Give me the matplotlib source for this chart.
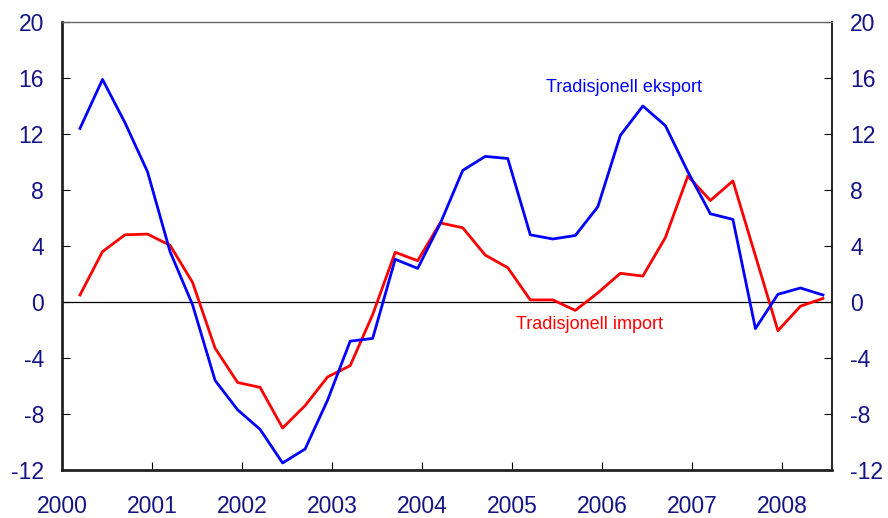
import matplotlib.pyplot as plt
import numpy as np

plt.rcParams['font.family'] = ['Liberation Sans', 'DejaVu Sans']

# kvartalsdata 2000K1 - 2008K2
eksport = [12.4, 15.9, 12.8, 9.3, 3.6, -0.2, -5.6, -7.7, -9.1, -11.5, -10.5, -7.0,
           -2.8, -2.6, 3.05, 2.4, 5.6, 9.4, 10.4, 10.25, 4.8, 4.5, 4.75, 6.8,
           11.9, 14.0, 12.6, 9.3, 6.3, 5.9, -1.9, 0.55, 1.0, 0.5]
importen = [0.5, 3.6, 4.8, 4.85, 4.05, 1.4, -3.3, -5.75, -6.1, -9.0, -7.4, -5.35,
            -4.55, -0.9, 3.55, 2.95, 5.65, 5.3, 3.35, 2.45, 0.15, 0.15, -0.6, 0.65,
            2.05, 1.85, 4.6, 9.0, 7.25, 8.65, 3.3, -2.05, -0.3, 0.25]
years = list(range(2000, 2009))
yticks = [-12, -8, -4, 0, 4, 8, 12, 16, 20]

navy = '#141487'
x = 2000.2 + np.arange(len(eksport)) * 0.25

fig = plt.figure(figsize=(8.88, 5.18), dpi=100)
ax = fig.add_axes([0.0698, 0.0927, 0.8671, 0.8648])

ax.axhline(0, color='black', linewidth=0.9, zorder=1)
ax.plot(x, eksport, color='#0000ff', linewidth=2, zorder=3)
ax.plot(x, importen, color='#ff0000', linewidth=2, zorder=2)

ax.text(2005.37, 15.3, 'Tradisjonell eksport', color='#0000ff', fontsize=13, va='center')
ax.text(2005.04, -1.6, 'Tradisjonell import', color='#ff0000', fontsize=13, va='center')

ax.set_xlim(2000, 2008.55)
ax.set_ylim(-12, 20)
ax.set_xticks(years)
ax.set_xticklabels([str(y) for y in years])
ax.set_yticks(yticks)
ax.set_yticklabels([str(v) for v in yticks])

ax.tick_params(axis='y', direction='in', length=6, right=True, labelright=True,
               labelsize=16.5, labelcolor=navy, pad=13)
ax.tick_params(axis='x', direction='in', length=6, labelsize=16.5, labelcolor=navy, pad=18)

for s in ['left', 'bottom']:
    ax.spines[s].set_linewidth(2)
    ax.spines[s].set_color('#222222')
ax.spines['top'].set_linewidth(1)
ax.spines['top'].set_color('#666666')
ax.spines['right'].set_linewidth(1.2)

fig.savefig('out.png', dpi=100)
